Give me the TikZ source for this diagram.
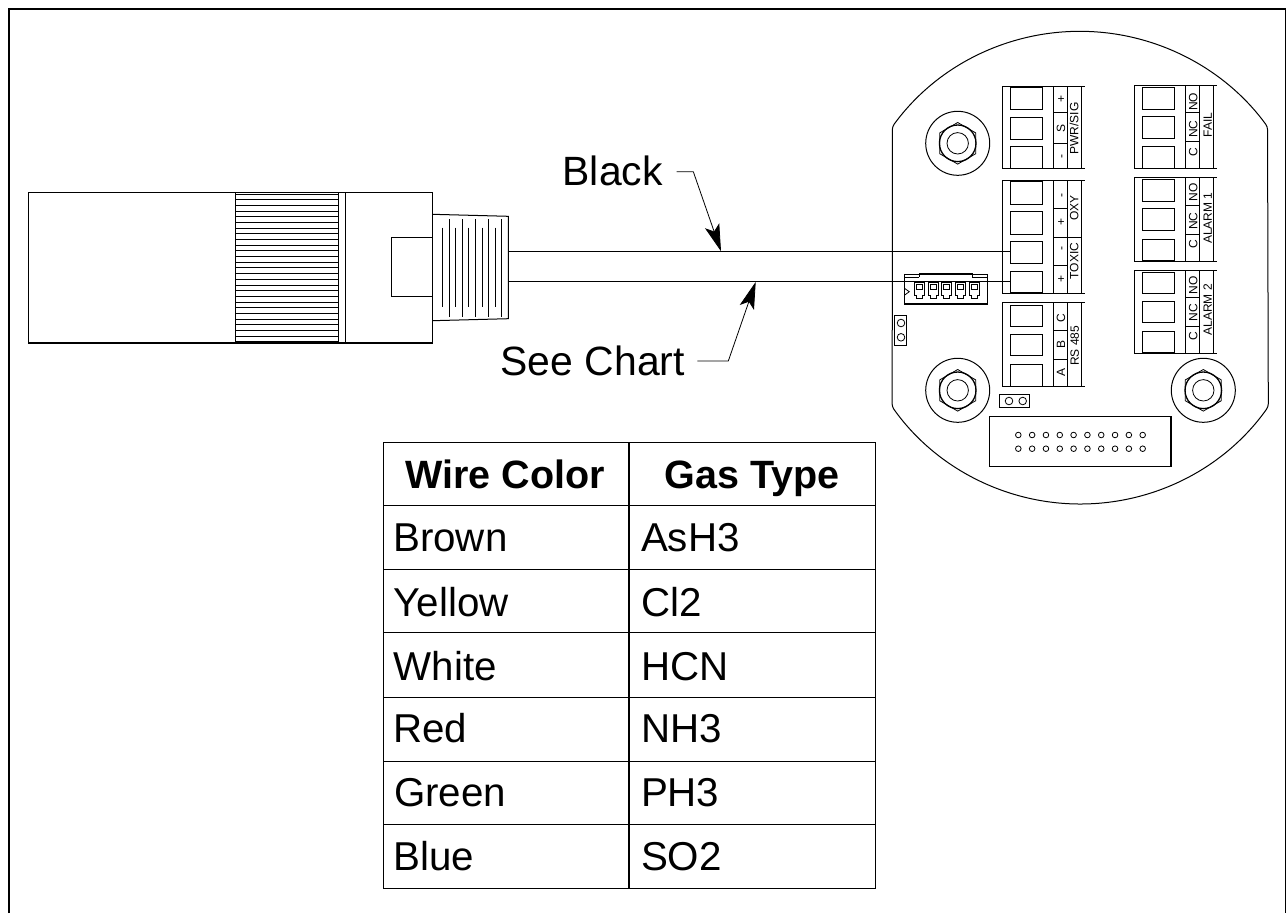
\documentclass[tikz,border=0pt]{standalone}
\usepackage{fontspec}
\setmainfont{Liberation Sans}
\usetikzlibrary{arrows.meta}
\tikzset{
  ln/.style={draw=black,line width=1pt},
  thin ln/.style={draw=black,line width=.8pt},
  big/.style={inner sep=0pt,anchor=base west,font=\fontsize{40.3}{44}\selectfont},
  bigb/.style={inner sep=0pt,anchor=base,font=\fontsize{39.5}{44}\selectfont\bfseries},
  callout/.style={inner sep=0pt,anchor=base west,font=\fontsize{40.9}{44}\selectfont},
  sm/.style={inner sep=0pt,rotate=90,anchor=center,text height=8.6pt,text depth=0pt,font=\fontsize{12}{14}\selectfont},
  leader/.style={draw=black,line width=.8pt,-{Stealth[length=27pt,width=15pt,inset=6pt]}},
}
% block: left x, top, bottom
\newcommand{\termblock}[3]{%
  \draw[ln] (#1+82.5,#2)--(#1,#2)--(#1,#3)--(#1+82.5,#3);
  \draw[ln] (#1+51.5,#2)--(#1+51.5,#3) (#1+65.2,#2)--(#1+65.2,#3) (#1+79.5,#2)--(#1+79.5,#3);
}
\newcommand{\termsq}[3]{\draw[ln] (#1+8.3,#2) rectangle (#1+40.2,#3);}
\newcommand{\bolt}[2]{%
  \begin{scope}[shift={(#1,#2)}]
    \draw[ln] (0,0) circle[radius=32pt];
    \draw[thin ln] (90:20.8pt)--(30:20.8pt)--(-30:20.8pt)--(-90:20.8pt)--(-150:20.8pt)--(150:20.8pt)--cycle;
    \draw[draw=black,line width=1.3pt] (0,0) circle[radius=18.3pt];
    \draw[thin ln] (0,0) circle[radius=10.7pt];
  \end{scope}}
\begin{document}
\begin{tikzpicture}[x=1pt,y=-1pt]
\useasboundingbox (0,0) rectangle (1287,913);
% frame
\draw[draw=black,line width=2pt] (9,913)--(9,8.5)--(1285.5,8.5);
\draw[draw=black,line width=1.2pt] (1285.5,8.5)--(1285.5,913);
% plug body
\draw[ln,line width=1.1pt] (28.5,192.5) rectangle (432.3,343);
\draw[draw=black,line width=1.5pt] (235.7,192.5)--(235.7,343);
\draw[ln] (338,192.5)--(338,343) (345.5,192.5)--(345.5,343);
\foreach \i in {0,...,26} \draw[ln] (235.7,{194+5.69*\i})--(338,{194+5.69*\i});
\draw[ln] (432.3,237.7)--(391.7,237.7)--(391.7,296.3)--(432.3,296.3);
% boot
\draw[ln] (432.3,214.3)--(508.3,216.3)--(508.3,318.7)--(432.3,320.7);
\foreach \x in {442.3,455.3,468.7,482,495} \draw[ln] (\x,227.7)--(\x,307.3);
\foreach \x in {449,462,475.3,488.3,501.7} \draw[ln] (\x,219)--(\x,316.7);
% panel outline
\draw[draw=black,line width=1pt,rounded corners=3pt] (892.3,300)--(892.3,126.7) arc[start angle=143.9,end angle=36.1,radius=232.2pt]--(1268.3,406.7) arc[start angle=-35.3,end angle=-144.7,radius=230.5pt]--(892.3,300);
% bolts
\bolt{957.7}{143.3}
\bolt{957.7}{390.3}
\bolt{1203.3}{390.3}
% PWR/SIG block
\termblock{1002}{86.7}{168.7}
\termsq{1002}{87.3}{109.3}\termsq{1002}{117.3}{139.3}\termsq{1002}{146.7}{168.3}
\draw[ln] (1053.5,112.7)--(1067.2,112.7) (1053.5,143.3)--(1067.2,143.3);
\node[sm] (p1) at (1060.7,99) {+};
\node[sm] (p2) at (1060.7,128) {S};
\node[sm] (p3) at (1060.7,156) {-};
\node[sm] (p4) at (1074,128.5) {PWR/SIG};
% TOXIC/OXY block
\termblock{1002}{180.7}{293.3}
\termsq{1002}{181.7}{204}\termsq{1002}{211.7}{234}\termsq{1002}{241}{263.3}\termsq{1002}{271}{292.7}
\draw[ln] (1053.5,208.3)--(1067.2,208.3) (1053.5,237.3)--(1081.5,237.3) (1053.5,265)--(1067.2,265);
\node[sm] (t1) at (1060.7,195.7) {-};
\node[sm] (t2) at (1060.7,222.3) {+};
\node[sm] (t3) at (1060.7,248.3) {-};
\node[sm] (t4) at (1060.7,279) {+};
\node[sm] (t5) at (1074,208.3) {OXY};
\node[sm] (t6) at (1074,261) {TOXIC};
% RS485 block
\termblock{1002}{302.7}{386.7}
\termsq{1002}{305}{326.7}\termsq{1002}{334.3}{355.7}\termsq{1002}{364.3}{386}
\draw[ln] (1053.5,330.3)--(1067.2,330.3) (1053.5,359.3)--(1067.2,359.3);
\node[sm] (r1) at (1060.7,318.3) {C};
\node[sm] (r2) at (1060.7,344) {B};
\node[sm] (r3) at (1060.7,372.7) {A};
\node[sm] (r4) at (1074.5,345.8) {RS 485};
% FAIL
\termblock{1134.3}{85.3}{168.7}
\termsq{1134.3}{87.3}{109.3}\termsq{1134.3}{116}{138.3}\termsq{1134.3}{146}{168.3}
\draw[ln] (1185.8,112.7)--(1199.5,112.7) (1185.8,141.7)--(1199.5,141.7);
\node[sm] (f1) at (1193,101.7) {NO};
\node[sm] (f2) at (1193,129.3) {NC};
\node[sm] (f3) at (1193,152.3) {C};
\node[sm] (f4) at (1207.5,125) {FAIL};
% ALARM 1
\termblock{1134.3}{177.3}{261.3}
\termsq{1134.3}{179.3}{201.3}\termsq{1134.3}{208.3}{230.7}\termsq{1134.3}{239}{260.7}
\draw[ln] (1185.8,205)--(1199.5,205) (1185.8,234.3)--(1199.5,234.3);
\node[sm] (a1) at (1193,192.3) {NO};
\node[sm] (a2) at (1193,221) {NC};
\node[sm] (a3) at (1193,244) {C};
\node[sm] (a4) at (1207.5,218) {ALARM 1};
% ALARM 2
\termblock{1134.3}{270.7}{353.7}
\termsq{1134.3}{272}{293.3}\termsq{1134.3}{301}{322.3}\termsq{1134.3}{331.3}{352.7}
\draw[ln] (1185.8,297.7)--(1199.5,297.7) (1185.8,326.7)--(1199.5,326.7);
\node[sm] (b1) at (1193,285) {NO};
\node[sm] (b2) at (1193,312.7) {NC};
\node[sm] (b3) at (1193,336) {C};
\node[sm] (b4) at (1207.5,309.7) {ALARM 2};
% small connector
\draw[draw=black,line width=1.4pt] (904.7,273.9)--(904.7,304)--(987.5,304)--(987.5,273.9);
\draw[draw=black,line width=1.4pt] (919.3,277)--(919.3,273.9)--(972.3,273.9)--(972.3,277);
\draw[thin ln] (904.7,273.9)--(919.3,273.9) (972.3,273.9)--(987.5,273.9);
\draw[thin ln] (904.7,277)--(919.3,277) (972.3,277)--(987.5,277);
\draw[thin ln] (904.7,288.5)--(909.3,291.7)--(904.7,295);
\foreach \x in {919.3,933,946.7,960.3,974}{
  \draw[thin ln] (\x-5,282.3)--(\x+5,282.3)--(\x+5,295)--(\x+3,295)--(\x+3,298.3)--(\x-3,298.3)--(\x-3,295)--(\x-5,295)--cycle;
  \draw[thin ln] (\x-3,284.3) rectangle (\x+3,289.3);
}
% jumpers
\draw[thin ln] (894.7,315.7) rectangle (906,345.7);
\draw[thin ln] (901,323) circle[radius=3.8pt] (901,337.3) circle[radius=3.8pt];
\draw[thin ln] (999.3,394.7) rectangle (1029.7,407.7);
\draw[thin ln] (1009,401) circle[radius=3.8pt] (1022.7,401) circle[radius=3.8pt];
% header
\draw[draw=black,line width=1.3pt] (989.3,416.3) rectangle (1171,466.7);
\foreach \i in {0,...,9}{
  \draw[thin ln] ({1018.3+13.82*\i},435) circle[radius=2.8pt];
  \draw[thin ln] ({1018.3+13.82*\i},448.7) circle[radius=2.8pt];
}
% wires
\coordinate (bootT) at (508.3,251.5);
\coordinate (bootB) at (508.3,281.7);
\coordinate (termT) at (1010.3,251.5);
\coordinate (termB) at (1010.3,281.7);
\draw[ln] (bootT)--(termT);
\draw[ln] (bootB)--(termB);
% callouts
\node[callout] (black) at (562.5,185) {Black};
\node[callout] (chart) at (500.5,375) {See Chart};
\coordinate (blackS) at (676.7,171.7);
\coordinate (blackB) at (693.3,171.7);
\coordinate (blackT) at (721,251.3);
\coordinate (chartS) at (697.3,361);
\coordinate (chartB) at (728.3,361);
\coordinate (chartT) at (755.7,281.9);
\draw[leader] (blackS)--(blackB)--(blackT);
\draw[leader] (chartS)--(chartB)--(chartT);
% table
\draw[draw=black,line width=1pt] (383,442.5) rectangle (875.7,888);
\draw[draw=black,line width=1.1pt] (629,442.5)--(629,888);
\foreach \y in {505,569.3,632.7,697,761,824} \draw[draw=black,line width=1pt] (383,\y)--(875.7,\y);
\node[bigb] (h1) at (505,488.3) {Wire Color};
\node[bigb] (h2) at (752,488.3) {Gas Type};
\node[big] (c1) at (393,551.7) {Brown};
\node[big] (d1) at (640.8,551.7) {AsH3};
\node[big] (c2) at (393.5,616) {Yellow};
\node[big] (d2) at (640.8,616) {Cl2};
\node[big] (c3) at (393.5,680) {White};
\node[big] (d3) at (640.8,680) {HCN};
\node[big] (c4) at (393,742.7) {Red};
\node[big] (d4) at (640.8,742.7) {NH3};
\node[big] (c5) at (394,806.7) {Green};
\node[big] (d5) at (640.8,806.7) {PH3};
\node[big] (c6) at (393,870.7) {Blue};
\node[big] (d6) at (640.8,870.7) {SO2};
\end{tikzpicture}
\end{document}
